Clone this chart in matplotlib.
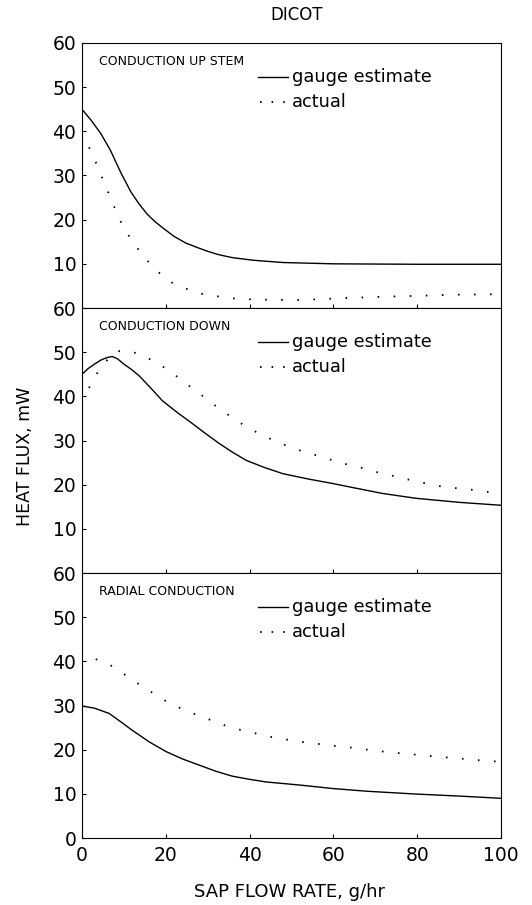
import numpy as np
import matplotlib
matplotlib.use("Agg")
import matplotlib.pyplot as plt

plt.rcParams['font.family'] = ['DejaVu Sans']

# --- values ---
up_gauge_x = [0, 2.2, 4.5, 6.8, 9.2, 11.6, 13.6, 15.6, 17.5, 19.2, 22, 24.8, 27.5, 29.8,
              32.5, 35.9, 41, 47.9, 60, 80, 100]
up_gauge_y = [45, 42.5, 39.5, 35.7, 30.8, 26.4, 23.6, 21.2, 19.5, 18.2, 16.2, 14.7, 13.7, 12.9,
              12.1, 11.4, 10.8, 10.3, 10.0, 9.9, 9.9]
up_actual_x = [1.7, 3.3, 4.7, 6.1, 7.4, 8.9, 10.4, 12.4, 14.5, 16.7, 19.2, 22, 25.2,
               28.4, 32, 35.2, 41.5, 51.9, 61.5, 70, 78.2, 88, 98.2]
up_actual_y = [36.4, 33, 29.8, 26.6, 23.6, 20.2, 17.5, 14.6, 12, 9.5, 7.3, 5.4, 4.25,
               3.25, 2.7, 2.2, 1.9, 1.8, 2.2, 2.5, 2.7, 3.0, 3.1]

down_gauge_x = [0, 1.5, 3, 4.5, 5.5, 6.5, 7.3, 8.5, 10, 11.8, 13.6, 16.5, 19.2, 22.8, 26.4,
                29.6, 32.8, 36, 39.2, 43.5, 47.9, 53.9, 59.9, 65.9, 71.8, 79.8, 90, 99.8]
down_gauge_y = [45, 46.3, 47.3, 48.2, 48.6, 48.9, 49, 48.5, 47.3, 46.1, 44.7, 41.8, 39, 36.3,
                33.8, 31.5, 29.3, 27.3, 25.5, 23.9, 22.5, 21.3, 20.25, 19.1, 18, 16.9, 16, 15.35]
down_actual_x = [1.7, 3.4, 5.5, 8.1, 11.4, 14.8, 18, 21, 23.6, 26.2, 29.2, 31.8, 34.8, 37.4,
                 40.4, 43.5, 46.3, 49.7, 53.1, 56.5, 59.9, 63.2, 66.4, 69.6, 76, 79.4,
                 86.2, 92.6, 99]
down_actual_y = [41.9, 44.9, 47.7, 50.2, 50.3, 49.1, 47.5, 45.7, 43.8, 41.9, 39.8, 37.9, 35.9,
                 34.2, 32.5, 31, 29.8, 28.5, 27.4, 26.5, 25.5, 24.6, 23.9, 23, 21.6, 20.8,
                 19.5, 18.9, 18.1]

rad_gauge_x = [0, 3, 6.5, 9, 12, 16, 20, 24, 28, 32, 35.9, 39.9, 43.9, 51.9, 59.9, 67.9,
               79.8, 90, 99.8]
rad_gauge_y = [29.9, 29.4, 28.2, 26.5, 24.4, 21.8, 19.6, 17.9, 16.5, 15.1, 14, 13.3, 12.7,
               12, 11.2, 10.6, 9.95, 9.5, 9.0]
rad_actual_x = [3.3, 6.5, 9.6, 12.4, 15.4, 18.3, 21.4, 24.2, 27.3, 30.8, 34.1, 37.3, 40.6,
                43.9, 47.4, 50.7, 53.9, 57.3, 60.7, 63.9, 70.6, 77, 83.8, 90.2, 97, 100]
rad_actual_y = [40.5, 39.3, 37.4, 35.5, 33.8, 31.9, 30.3, 29.1, 27.9, 26.7, 25.5, 24.6, 23.9,
                23.1, 22.5, 22, 21.6, 21.2, 20.8, 20.5, 19.7, 19.1, 18.5, 18, 17.4, 17.3]

panels = [
    ("CONDUCTION UP STEM", up_gauge_x, up_gauge_y, up_actual_x, up_actual_y, [10, 20, 30, 40, 50, 60]),
    ("CONDUCTION DOWN", down_gauge_x, down_gauge_y, down_actual_x, down_actual_y, [10, 20, 30, 40, 50, 60]),
    ("RADIAL CONDUCTION", rad_gauge_x, rad_gauge_y, rad_actual_x, rad_actual_y, [0, 10, 20, 30, 40, 50, 60]),
]

dots = (0, (0.9, 8.0))

fig = plt.figure(figsize=(5.32, 9.05), dpi=100)
gs = fig.add_gridspec(3, 1, left=0.154, right=0.942, top=0.9525, bottom=0.074, hspace=0)

for i, (name, gx, gy, ax_x, ax_y, yt) in enumerate(panels):
    ax = fig.add_subplot(gs[i])
    ax.plot(gx, gy, color='black', lw=1.0)
    ax.plot(ax_x, ax_y, color='black', lw=1.3, linestyle=dots)
    ax.set_xlim(0, 100)
    ax.set_ylim(0, 60)
    ax.set_yticks(yt)
    ax.set_xticks([0, 20, 40, 60, 80, 100])
    ax.tick_params(direction='in', length=3, width=0.8, labelsize=13.5, pad=4)
    ax.tick_params(axis='x', pad=6)
    if i < 2:
        ax.tick_params(axis='x', labelbottom=False)
    for sp in ax.spines.values():
        sp.set_linewidth(0.8)

    ax.text(0.041, 0.932, name, transform=ax.transAxes, fontsize=9, va='center', ha='left')
    # key
    ax.plot([0.42, 0.492], [0.872, 0.872], transform=ax.transAxes, color='black', lw=1.0)
    ax.text(0.501, 0.872, "gauge estimate", transform=ax.transAxes, fontsize=12.8,
            va='center', ha='left')
    ax.plot([0.424, 0.495], [0.777, 0.777], transform=ax.transAxes, color='black',
            lw=1.3, linestyle=(0, (0.9, 5.5)))
    ax.text(0.501, 0.777, "actual", transform=ax.transAxes, fontsize=12.8,
            va='center', ha='left')

fig.text(0.558, 0.983, "DICOT", fontsize=12, ha='center', va='center')
fig.text(0.545, 0.0144, "SAP FLOW RATE, g/hr", fontsize=13, ha='center', va='center')
fig.text(0.047, 0.496, "HEAT FLUX, mW", fontsize=12.5, ha='center', va='center', rotation=90)

fig.savefig("out.png", dpi=100)
